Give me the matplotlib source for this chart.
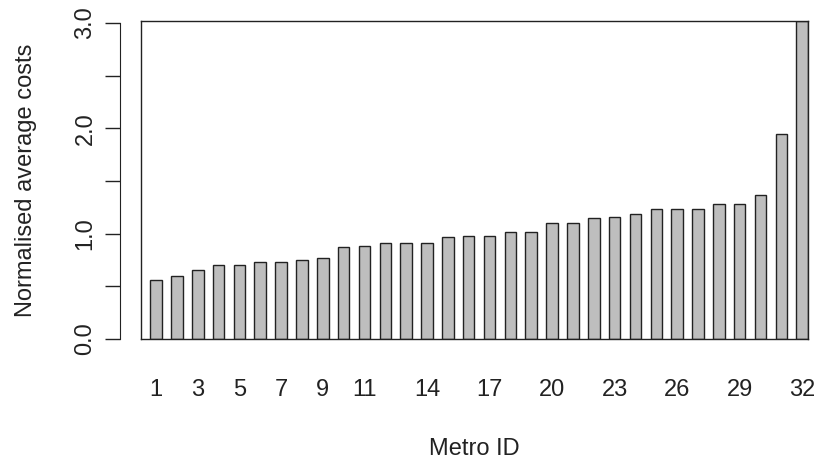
import numpy as np
import matplotlib
matplotlib.use("Agg")
import matplotlib.pyplot as plt

plt.rcParams['font.family'] = ['Liberation Sans', 'DejaVu Sans']

# normalised average cost per metro, sorted ascending
metro_ids = np.arange(1, 33)
costs = [0.56, 0.60, 0.655, 0.70, 0.70, 0.73, 0.73, 0.75, 0.77, 0.87,
         0.88, 0.91, 0.915, 0.915, 0.97, 0.98, 0.98, 1.013, 1.02, 1.105,
         1.105, 1.15, 1.16, 1.19, 1.23, 1.235, 1.235, 1.285, 1.285, 1.37,
         1.95, 3.02]
shown_labels = [1, 3, 5, 7, 9, 11, 14, 17, 20, 23, 26, 29, 32]
y_ticks = [0.0, 0.5, 1.0, 1.5, 2.0, 2.5, 3.0]

FS = 17
INK = '#222222'

# barplot layout: width 1, gap 0.8
bar_w, gap = 1.0, 0.8
centers = gap + bar_w / 2 + (metro_ids - 1) * (bar_w + gap)

W, H = 818, 461
fig = plt.figure(figsize=(W / 100, H / 100), dpi=100)
rect = [141 / W, (H - 339) / H, (808 - 141) / W, (339 - 21) / H]
ax = fig.add_axes(rect)

ax.bar(centers, costs, width=bar_w, color='#bebebe', edgecolor=INK, linewidth=1.0)
ax.set_xlim(0, centers[-1] + bar_w / 2)
ax.set_ylim(0, 3.02)
for s in ax.spines.values():
    s.set_color(INK)
    s.set_linewidth(1.0)

ax.set_xticks([centers[i - 1] for i in shown_labels])
ax.set_xticklabels([str(i) for i in shown_labels], fontsize=FS)
ax.tick_params(axis='x', length=0, pad=29, colors=INK)
ax.tick_params(axis='y', left=False, labelleft=False)
ax.set_xlabel('Metro ID', fontsize=FS, color=INK)
ax.xaxis.set_label_coords(0.5, -(455 - 339) / 318)
ax.xaxis.label.set_va('baseline')

# detached y axis, R style
ay = fig.add_axes(rect)
ay.patch.set_visible(False)
ay.set_ylim(0, 3.02)
for k in ['top', 'right', 'bottom']:
    ay.spines[k].set_visible(False)
ay.spines['left'].set_position(('outward', 15))
ay.spines['left'].set_bounds(0, 3)
ay.spines['left'].set_color(INK)
ay.set_xticks([])
ay.set_yticks(y_ticks)
ay.set_yticklabels(['0.0', '', '1.0', '', '2.0', '', '3.0'], rotation=90,
                   va='center', fontsize=FS)
ay.tick_params(axis='y', length=11, width=1.0, pad=6, colors=INK)
ay.set_ylabel('Normalised average costs', fontsize=FS, color=INK)
ay.yaxis.set_label_coords((32 - 141) / 667, 0.5)
ay.yaxis.label.set_va('baseline')

fig.savefig('out.png', dpi=100)
